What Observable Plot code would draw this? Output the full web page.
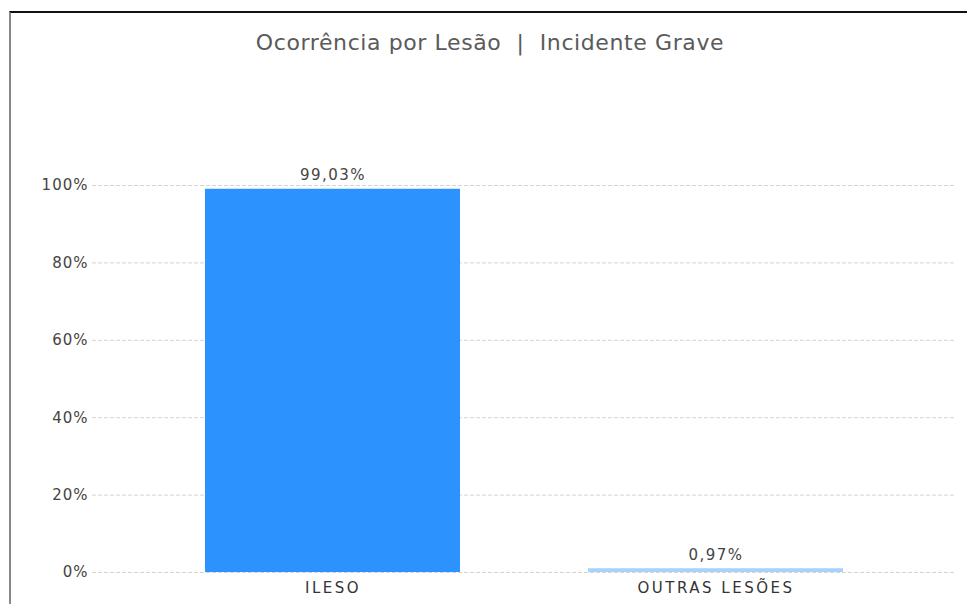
<!DOCTYPE html>
<html>
<head>
<meta charset="utf-8">
<script src="https://cdn.jsdelivr.net/npm/d3@7"></script>
<script src="https://cdn.jsdelivr.net/npm/@observablehq/plot@0.6"></script>
<style>
  html, body { margin: 0; padding: 0; background: #fff; overflow: hidden; }
  #wrap { position: relative; width: 967px; height: 604px; overflow: hidden; }
  #frame { position: absolute; left: 9px; top: 11px; width: 1000px; height: 700px;
           border-top: 2px solid #111; border-left: 2px solid #888; }
  #title { position: absolute; top: 30px; left: 0; width: 980px; text-align: center;
           font-family: "DejaVu Sans", sans-serif; font-size: 22px; letter-spacing: 0.6px; color: #5a5a5a; white-space: pre; }
  #chart { position: absolute; left: 0; top: 0; }
  #chart g[aria-label="x-axis tick label"] text { letter-spacing: 2.5px; }
  #chart g[aria-label="y-axis tick label"] text { letter-spacing: 1px; }
  #chart g[aria-label="text"] text { letter-spacing: 1.5px; }
</style>
</head>
<body>
<div id="wrap">
  <div id="frame"></div>
  <div id="title">Ocorrência por Lesão  |  Incidente Grave</div>
  <div id="chart"></div>
</div>
<script>
const categories = ["ILESO", "OUTRAS LESÕES"];
const values = [99.03, 0.97];
const valueLabels = ["99,03%", "0,97%"];
const barColors = ["#2b92fe", "#a7d2fb"];
const yTicks = [0, 20, 40, 60, 80, 100];

const data = categories.map((c, i) => ({category: c, value: values[i], label: valueLabels[i], color: barColors[i]}));

const chart = Plot.plot({
  width: 967,
  height: 604,
  marginTop: 185,
  marginBottom: 32,
  marginLeft: 92,
  marginRight: 11,
  style: {fontFamily: "DejaVu Sans, sans-serif", fontSize: "15px", color: "#444", background: "transparent"},
  x: {domain: categories, paddingInner: 1/3, paddingOuter: 0.2917, label: null, tickSize: 0},
  y: {domain: [0, 100], ticks: yTicks, tickFormat: d => d + "%", label: null, tickSize: 0},
  marks: [
    Plot.ruleY(yTicks, {stroke: "#d4d4d4", strokeDasharray: "4,2", strokeWidth: 1}),
    Plot.barY(data, {x: "category", y: "value", fill: "color"}),
    Plot.text(data, {x: "category", y: "value", text: "label", lineAnchor: "bottom", dy: -9, fill: "#444", fontSize: 15}),
    Plot.axisX({tickSize: 0, tickPadding: 10, fontSize: 15, fill: "#333"}),
    Plot.axisY({ticks: yTicks, tickFormat: d => d + "%", tickSize: 0, tickPadding: 4, fontSize: 15, fill: "#444"})
  ]
});
document.getElementById("chart").appendChild(chart);
</script>
</body>
</html>
